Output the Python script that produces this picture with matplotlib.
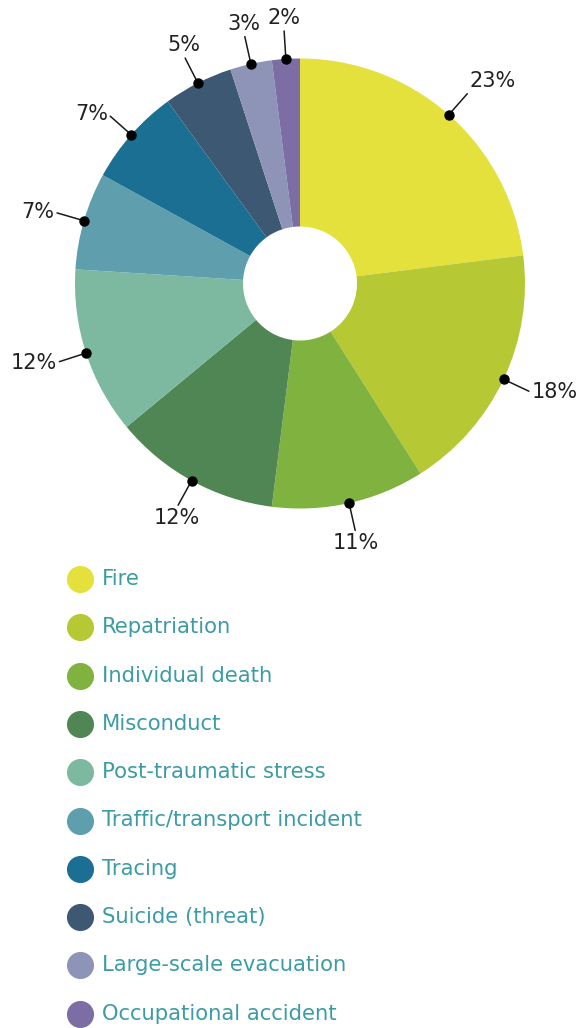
import numpy as np
import matplotlib
matplotlib.use("Agg")
import matplotlib.pyplot as plt

# Share of incidents by type
categories = [
    "Fire", "Repatriation", "Individual death", "Misconduct",
    "Post-traumatic stress", "Traffic/transport incident", "Tracing",
    "Suicide (threat)", "Large-scale evacuation", "Occupational accident",
]
shares = [23, 18, 11, 12, 12, 7, 7, 5, 3, 2]
colors = [
    "#E4E03C", "#B6C834", "#80B23F", "#4F8654", "#7DB8A1",
    "#5F9EAD", "#1B6F92", "#3C5873", "#8E93B8", "#7C6EA4",
]

W, H = 588, 1028
fig = plt.figure(figsize=(W / 100, H / 100), dpi=100)
ax = fig.add_axes([0, 0, 1, 1])


def py(y):
    """Convert a top-down pixel row to data y."""
    return H - y


R_OUT = 225
R_IN = 57
cx, cy = 300, py(283.5)

wedges, _ = ax.pie(
    shares, colors=colors, startangle=90, counterclock=False,
    radius=R_OUT, center=(cx, cy),
    wedgeprops=dict(width=R_OUT - R_IN, linewidth=0),
)

ax.set_xlim(0, W)
ax.set_ylim(0, H)
ax.set_aspect("equal")
ax.axis("off")

# Leader lines with dots and percentage labels
LEAD = 28
GAP = 3
for w, v in zip(wedges, shares):
    ang = np.deg2rad((w.theta1 + w.theta2) / 2)
    c, s = np.cos(ang), np.sin(ang)
    x0, y0 = cx + R_OUT * c, cy + R_OUT * s
    x1, y1 = cx + (R_OUT + LEAD) * c, cy + (R_OUT + LEAD) * s
    ax.plot([x0, x1], [y0, y1], color="#1a1a1a", lw=1.1, solid_capstyle="round")
    ax.plot([x0], [y0], "o", color="#000000", ms=6.5)
    ha = "left" if c > 0.5 else ("right" if c < -0.5 else "center")
    va = "bottom" if s > 0.7 else ("top" if s < -0.7 else "center")
    ax.text(x1 + GAP * c, y1 + GAP * s, f"{v}%", ha=ha, va=va,
            fontsize=15, color="#222222", family="DejaVu Sans")

# Legend
LEG_X = 80
LEG_Y0 = 579
LEG_STEP = 48.3
for i, (cat, col) in enumerate(zip(categories, colors)):
    y = py(LEG_Y0 + i * LEG_STEP)
    ax.plot([LEG_X], [y], "o", color=col, ms=19.5, mec="none")
    ax.text(LEG_X + 22, y, cat, ha="left", va="center",
            fontsize=15.2, color="#3C9CA4", family="DejaVu Sans")

fig.savefig("out.png", dpi=100, facecolor="white")
